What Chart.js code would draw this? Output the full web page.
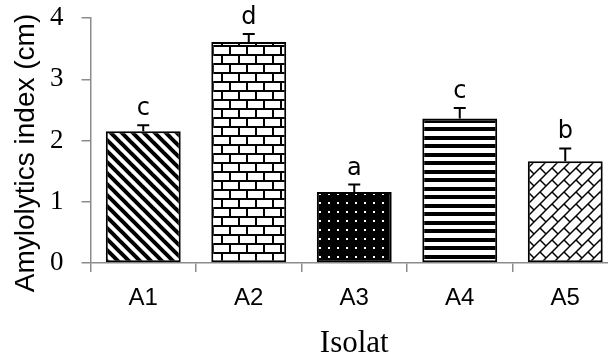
<!DOCTYPE html>
<html>
<head>
<meta charset="utf-8">
<script src="https://cdn.jsdelivr.net/npm/chart.js@4"></script>
<style>
  html, body { margin: 0; padding: 0; background: #fff; overflow: hidden; }
  #wrap { position: absolute; left: 0; top: 0; width: 618px; height: 359px; }
</style>
</head>
<body>
<div id="wrap"><canvas id="chart" width="618" height="359"></canvas></div>
<script>
const categories = ['A1', 'A2', 'A3', 'A4', 'A5'];
const values = [2.15, 3.61, 1.16, 2.36, 1.66];
const errors = [0.10, 0.13, 0.12, 0.17, 0.21];
const letters = ['c', 'd', 'a', 'c', 'b'];
const yTicks = [0, 1, 2, 3, 4];
const yTitle = 'Amylolytics index (cm)';

const axisGray = '#8c8c8c';

function tile(w, h, draw) {
  const c = document.createElement('canvas');
  c.width = w; c.height = h;
  const g = c.getContext('2d');
  g.fillStyle = '#fff';
  g.fillRect(0, 0, w, h);
  draw(g, w, h);
  return document.createElement('canvas').getContext('2d').createPattern(c, 'repeat');
}

// A1: "\" stripes
const diag = tile(11, 11, (g, w, h) => {
  g.strokeStyle = '#000';
  g.lineWidth = 4;
  for (let k = -2; k <= 2; k++) {
    g.beginPath();
    g.moveTo(k * w - 2, -2);
    g.lineTo(k * w + w + 2, h + 2);
    g.stroke();
  }
});

// A2: bricks
const brick = tile(17, 18, (g, w, h) => {
  g.fillStyle = '#000';
  g.fillRect(0, 0, w, 2);
  g.fillRect(0, 9, w, 2);
  g.fillRect(0, 0, 2, 9);
  g.fillRect(8, 9, 2, 9);
});

// A3: black with white dots
const dots = tile(9, 9, (g, w, h) => {
  g.fillStyle = '#000';
  g.fillRect(0, 0, w, h);
  g.fillStyle = '#fff';
  g.fillRect(4, 4, 2, 2);
});

// A4: horizontal stripes
const hstripe = tile(4, 17, (g, w, h) => {
  g.fillStyle = '#000';
  g.fillRect(0, 0, w, 4);
  g.fillRect(0, 8, w, 4);
});

// A5: diagonal weave (bricks turned 45 degrees)
const weave = tile(12, 12, (g, w, h) => {
  const bh = 12 / Math.SQRT2, bw = bh * 2;
  g.strokeStyle = '#000';
  g.lineWidth = 1.5;
  g.rotate(-Math.PI / 4);
  for (let k = -6; k <= 6; k++) {
    g.beginPath();
    g.moveTo(-100, k * bh);
    g.lineTo(100, k * bh);
    g.stroke();
    for (let j = -6; j <= 6; j++) {
      const u = j * bw + (Math.abs(k) % 2 ? bw / 2 : 0);
      g.beginPath();
      g.moveTo(u, k * bh);
      g.lineTo(u, (k + 1) * bh);
      g.stroke();
    }
  }
});

const fills = [diag, brick, dots, hstripe, weave];

const errorPlugin = {
  id: 'errorBars',
  afterDatasetsDraw(chart) {
    const ctx = chart.ctx;
    const y = chart.scales.y;
    const meta = chart.getDatasetMeta(0);
    ctx.save();
    ctx.strokeStyle = '#000';
    ctx.lineWidth = 2;
    ctx.fillStyle = '#000';
    ctx.font = '24px "DejaVu Sans", sans-serif';
    ctx.textAlign = 'center';
    ctx.textBaseline = 'alphabetic';
    meta.data.forEach((bar, i) => {
      const top = y.getPixelForValue(values[i]);
      const end = y.getPixelForValue(values[i] + errors[i]);
      ctx.beginPath();
      ctx.moveTo(bar.x, top);
      ctx.lineTo(bar.x, end);
      ctx.moveTo(bar.x - 6, end);
      ctx.lineTo(bar.x + 6, end);
      ctx.stroke();
      ctx.fillText(letters[i], bar.x, end - 10);
    });
    // y axis title, sits a bit lower than the axis middle
    ctx.translate(34, 153);
    ctx.rotate(-Math.PI / 2);
    ctx.font = '28px "Liberation Sans", sans-serif';
    ctx.fillText(yTitle, 0, 0);
    ctx.restore();
  }
};

new Chart(document.getElementById('chart'), {
  type: 'bar',
  data: {
    labels: categories,
    datasets: [{
      data: values,
      backgroundColor: fills,
      borderColor: '#000',
      borderWidth: 2,
      borderSkipped: false,
      categoryPercentage: 1,
      barPercentage: 0.71
    }]
  },
  options: {
    responsive: false,
    animation: false,
    layout: { padding: { top: 18, right: 0, left: 0, bottom: 0 } },
    plugins: { legend: { display: false }, tooltip: { enabled: false } },
    scales: {
      x: {
        afterFit: (axis) => { axis.height = 96; axis.paddingLeft = 0; axis.paddingRight = 0; },
        grid: { drawOnChartArea: false, color: axisGray, lineWidth: 1.5, tickLength: 9, offset: true },
        border: { color: axisGray, width: 1.5 },
        ticks: { color: '#000', font: { family: '"Liberation Sans", sans-serif', size: 24 }, padding: 12 },
        title: { display: true, text: 'Isolat', color: '#000', font: { family: '"Liberation Serif", serif', size: 31, lineHeight: 1 }, padding: { top: 0, bottom: 0 } }
      },
      y: {
        min: 0,
        max: 4,
        afterBuildTicks: (axis) => { axis.ticks = yTicks.map(v => ({ value: v })); },
        afterFit: (axis) => { axis.width = 90.5; axis.paddingTop = 0; axis.paddingBottom = 0; },
        grid: { drawOnChartArea: false, color: axisGray, lineWidth: 1.5, tickLength: 9 },
        border: { color: axisGray, width: 1.5 },
        ticks: { color: '#000', font: { family: '"Liberation Serif", serif', size: 27 }, padding: 18 },
        title: { display: false }
      }
    }
  },
  plugins: [errorPlugin]
});
</script>
</body>
</html>
